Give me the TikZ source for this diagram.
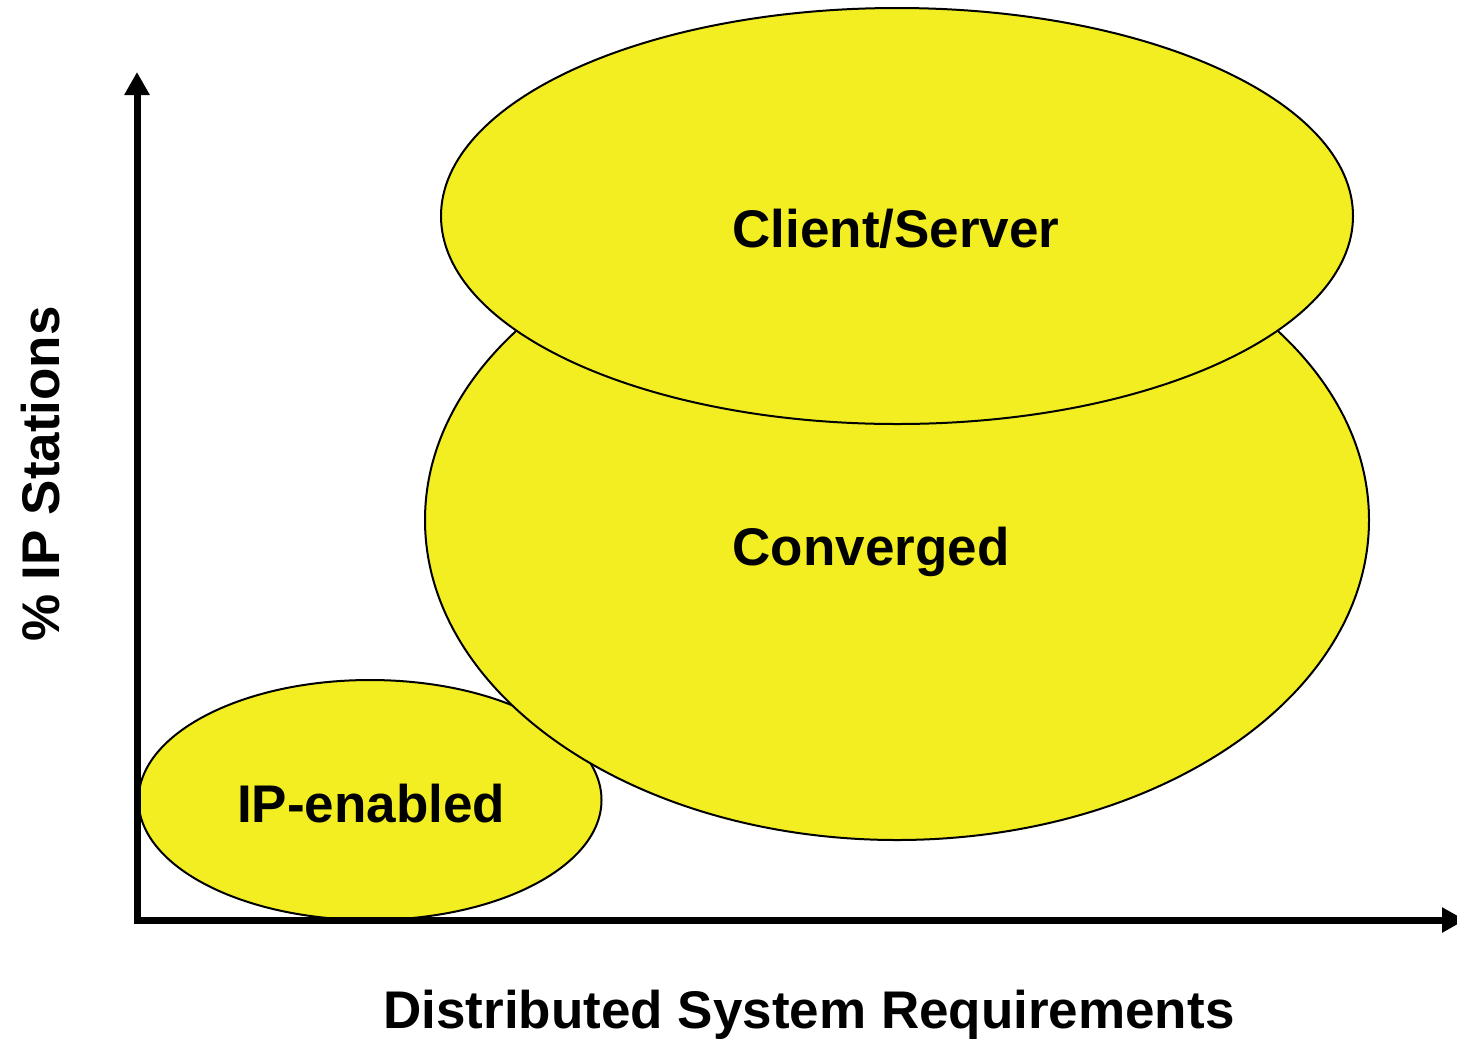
\documentclass[tikz,border=0pt]{standalone}
\usepackage{fontspec}
\setmainfont{Liberation Sans}
\usetikzlibrary{shapes.geometric,arrows.meta}
\definecolor{regionyellow}{RGB}{242,238,34}

\begin{document}
\begin{tikzpicture}[x=0.5pt, y=-0.5pt,
region/.style = {ellipse, draw=black, line width=1pt, fill=regionyellow, inner sep=0pt, outer sep=0pt},
axis/.style = {line width=3.5pt, {Triangle[length=11.5pt, width=12pt]}-{Triangle[length=11.5pt, width=12pt]}},
tag/.style = {font=\fontsize{26.5}{30}\selectfont\bfseries, inner sep=0pt, anchor=base},
]
\useasboundingbox (0,0) rectangle (1457,1040);

% Draw regions
\node[region, minimum width=231.5pt, minimum height=120pt] (ipenabled) at (370,800) {};
\node[region, minimum width=472pt, minimum height=320pt] (converged) at (897,520) {};
\node[region, minimum width=456pt, minimum height=208pt] (clientserver) at (897,216) {};

% Label regions
\node[tag] (ipenabledtext) at (371,822) {IP-enabled};
\node[tag] (convergedtext) at (871,565) {Converged};
\node[tag] (clientservertext) at (896,247) {Client/Server};

% Draw axes
\coordinate (ytop) at (137,72);
\coordinate (origin) at (137,920);
\coordinate (xend) at (1465,920);
\draw[axis] (ytop) |- (xend);

% Label axes
\node[tag] (xlabel) at (809,1028) {Distributed System Requirements};
\node[tag, rotate=90] (ylabel) at (59,474) {\% IP Stations};

\end{tikzpicture}
\end{document}
